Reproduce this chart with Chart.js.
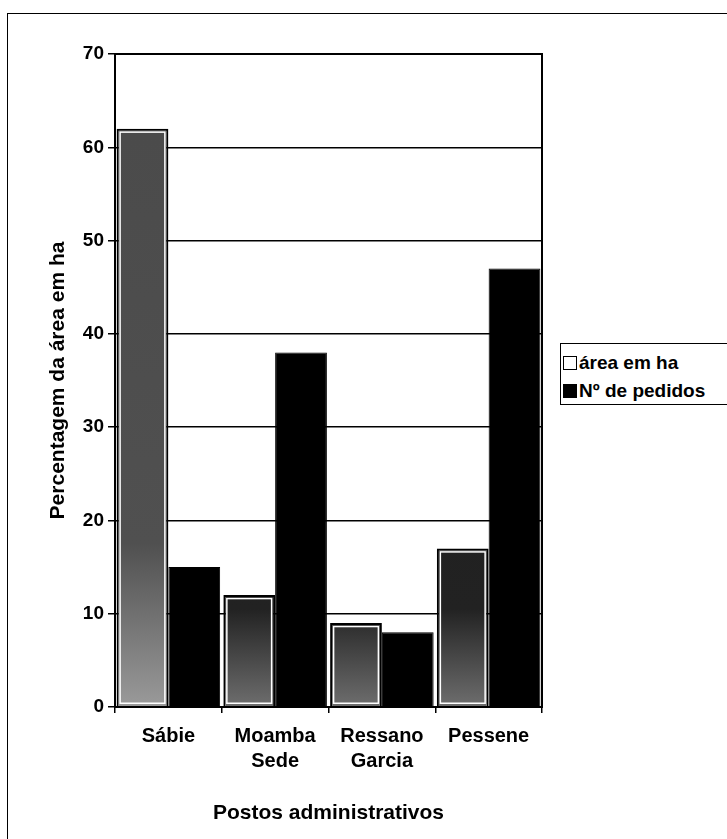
<!DOCTYPE html>
<html>
<head>
<meta charset="utf-8">
<script src="https://cdn.jsdelivr.net/npm/chart.js@4.4.1/dist/chart.umd.min.js"></script>
<style>
  html, body { margin: 0; padding: 0; background: #fff; }
  #wrap { position: relative; width: 727px; height: 839px; overflow: hidden; font-family: "Liberation Sans", Arial, sans-serif; }
  #frame { position: absolute; left: 7px; top: 13px; width: 760px; height: 880px; border: 1.5px solid #000; box-sizing: border-box; }
  canvas { position: absolute; left: 0; top: 0; }
  #legend { position: absolute; left: 560px; top: 343px; width: 200px; height: 62px; border: 1.5px solid #000; box-sizing: border-box; background: #fff; }
  .item { position: absolute; left: 2px; height: 24px; line-height: 24px; font-weight: bold; font-size: 19px; white-space: nowrap; }
  .sw { display: inline-block; width: 12px; height: 12px; border: 1.5px solid #000; vertical-align: -1px; margin-right: 2px; }
</style>
</head>
<body>
<div id="wrap">
  <div id="frame"></div>
  <canvas id="c" width="727" height="839"></canvas>
  <div id="legend"></div>
</div>
<script>
const categories = [["Sábie"], ["Moamba", "Sede"], ["Ressano", "Garcia"], ["Pessene"]];
const seriesNames = ["área em ha", "Nº de pedidos"];
const areaHa = [62, 12, 9, 17];
const pedidos = [15, 38, 8, 47];
const yTicks = [0, 10, 20, 30, 40, 50, 60, 70];

function areaFill(ctx) {
  const chart = ctx.chart;
  const ca = chart.chartArea;
  if (!ca) return '#333';
  const g = chart.ctx.createLinearGradient(0, ca.top, 0, ca.bottom);
  if (ctx.dataIndex === 0) {
    g.addColorStop(0, '#4a4a4a');
    g.addColorStop(0.75, '#505050');
    g.addColorStop(1, '#9a9a9a');
  } else {
    g.addColorStop(0, '#1c1c1c');
    g.addColorStop(0.85, '#222');
    g.addColorStop(1, '#6e6e6e');
  }
  return g;
}

const framePlugin = {
  id: 'framePlugin',
  afterDatasetsDraw(chart) {
    const c = chart.ctx;
    const meta = chart.getDatasetMeta(0);
    c.save();
    c.strokeStyle = '#fff';
    c.lineWidth = 1.5;
    meta.data.forEach(bar => {
      const p = bar.getProps(['x', 'y', 'base', 'width'], true);
      const l = p.x - p.width / 2 + 3.5, r = p.x + p.width / 2 - 3.5;
      const t = p.y + 3.5, b = p.base - 3;
      c.strokeRect(l, t, r - l, b - t);
    });
    c.restore();
  },
  afterDraw(chart) {
    const c = chart.ctx, ca = chart.chartArea;
    c.save();
    c.strokeStyle = '#000';
    c.lineWidth = 2;
    c.strokeRect(ca.left, ca.top, ca.right - ca.left, ca.bottom - ca.top);
    c.restore();
  }
};

const chart = new Chart(document.getElementById('c'), {
  type: 'bar',
  data: {
    labels: categories,
    datasets: [
      { label: seriesNames[0], data: areaHa, backgroundColor: areaFill, borderColor: '#000', borderWidth: 2 },
      { label: seriesNames[1], data: pedidos, backgroundColor: '#000', borderColor: '#000', borderWidth: 1 }
    ]
  },
  options: {
    responsive: false,
    animation: false,
    devicePixelRatio: 1,
    layout: { padding: { left: 0, top: 54, right: 185, bottom: 0 } },
    plugins: { legend: { display: false }, tooltip: { enabled: false } },
    datasets: { bar: { categoryPercentage: 0.97, barPercentage: 1.0 } },
    scales: {
      x: {
        grid: { display: true, drawOnChartArea: false, color: '#000', lineWidth: 1.5, tickLength: 6, offset: true },
        border: { display: true, color: '#000', width: 2 },
        ticks: { color: '#000', font: { family: 'Liberation Sans', weight: 'bold', size: 20, lineHeight: 1.25 }, padding: 11, maxRotation: 0, autoSkip: false },
        title: { display: true, text: 'Postos administrativos', color: '#000', font: { family: 'Liberation Sans', weight: 'bold', size: 21 }, padding: { top: 0, bottom: 13 } },
        afterFit(scale) { scale.height = 132; }
      },
      y: {
        min: 0, max: 70,
        afterBuildTicks(scale) { scale.ticks = yTicks.map(v => ({ value: v })); },
        grid: { color: '#000', lineWidth: 1.5, tickLength: 7 },
        border: { display: true, color: '#000', width: 2 },
        ticks: { color: '#000', font: { family: 'Liberation Sans', weight: 'bold', size: 19 }, padding: 4 },
        title: { display: true, text: 'Percentagem da área em ha', color: '#000', font: { family: 'Liberation Sans', weight: 'bold', size: 21 }, padding: { top: 46, bottom: 0 } },
        afterFit(scale) { scale.width = 115; }
      }
    }
  },
  plugins: [framePlugin]
});

const lg = document.getElementById('legend');
seriesNames.forEach((name, i) => {
  const d = document.createElement('div');
  d.className = 'item';
  d.style.top = (i === 0 ? 7 : 35) + 'px';
  const sw = document.createElement('span');
  sw.className = 'sw';
  sw.style.background = i === 0 ? '#fff' : '#000';
  d.appendChild(sw);
  d.appendChild(document.createTextNode(name));
  lg.appendChild(d);
});
</script>
</body>
</html>
